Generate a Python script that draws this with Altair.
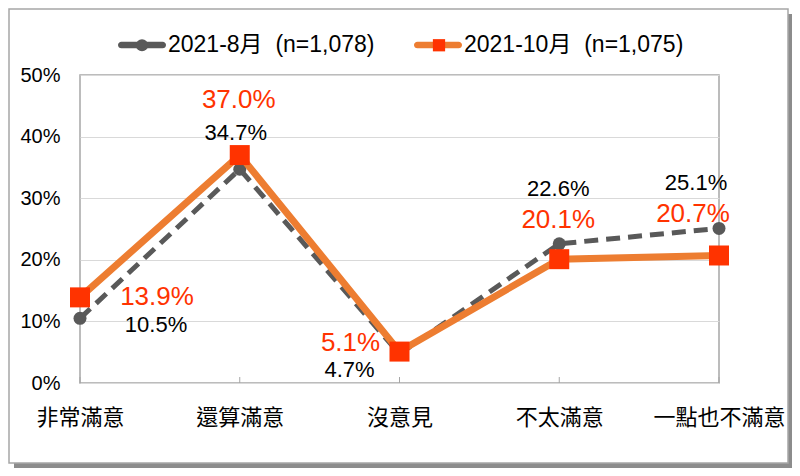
import altair as alt
import pandas as pd

# ---------------- data ----------------
categories = ["非常滿意", "還算滿意", "沒意見", "不太滿意", "一點也不滿意"]
series_names = ["2021-8月\u00a0\u00a0(n=1,078)", "2021-10月\u00a0\u00a0(n=1,075)"]
aug_values = [10.5, 34.7, 4.7, 22.6, 25.1]
oct_values = [13.9, 37.0, 5.1, 20.1, 20.7]
y_ticks = [0, 10, 20, 30, 40, 50]

rows = []
for s, vals in zip(series_names, [aug_values, oct_values]):
    for c, v in zip(categories, vals):
        rows.append({"cat": c, "series": s, "value": v})
df = pd.DataFrame(rows)

# ---------------- styles ----------------
LAT = "Liberation Sans, Arial, Noto Sans CJK TC, sans-serif"
CJK = "Noto Sans CJK TC, sans-serif"
GRAY = "#595959"
ORANGE = "#ED7D31"
RED = "#FF3300"
FRAME = "#A6A6A6"

W, H = 639, 308

x_enc = alt.X(
    "cat:N", sort=categories,
    scale=alt.Scale(type="point", padding=0),
    axis=alt.Axis(title=None, labelAngle=0, domain=False, ticks=False, tickSize=0,
                  grid=False, labelFont=CJK, labelFontSize=22, labelColor="#000000",
                  labelPadding=24),
)
y_enc = alt.Y(
    "value:Q",
    scale=alt.Scale(domain=[0, 50], nice=False),
    axis=alt.Axis(title=None, values=y_ticks, labelExpr="datum.value + '%'",
                  domain=False, ticks=False, tickSize=0, gridColor="#D9D9D9",
                  gridWidth=1, labelFont=LAT, labelFontSize=20, labelColor="#000000",
                  labelPadding=20),
)

base = alt.Chart(df)
is_aug = alt.datum.series == series_names[0]
is_oct = alt.datum.series == series_names[1]

# decoration: outer frame with shadow
one = alt.Data(values=[{"k": 0}])
shadow_r = alt.Chart(one).mark_rect(color="#8C8C8C").encode(
    x=alt.value(708), x2=alt.value(713), y=alt.value(-61), y2=alt.value(393))
shadow_b = alt.Chart(one).mark_rect(color="#8C8C8C").encode(
    x=alt.value(-66), x2=alt.value(713), y=alt.value(388), y2=alt.value(393))
frame = alt.Chart(one).mark_rect(fillOpacity=0, stroke=FRAME, strokeWidth=1.5).encode(
    x=alt.value(-71), x2=alt.value(708), y=alt.value(-66), y2=alt.value(388))

# inward x ticks
ticks = base.transform_filter(is_aug).mark_rule(color=FRAME, strokeWidth=1).encode(
    x=x_enc, y=alt.value(H - 6), y2=alt.value(H))

line_aug = base.transform_filter(is_aug).mark_line(
    color=GRAY, strokeWidth=5, strokeDash=[14, 8]).encode(x=x_enc, y=y_enc)
pts_aug = base.transform_filter(is_aug).mark_circle(
    color=GRAY, size=169, opacity=1).encode(x=x_enc, y=y_enc)
line_oct = base.transform_filter(is_oct).mark_line(
    color=ORANGE, strokeWidth=7).encode(x=x_enc, y=y_enc)
pts_oct = base.transform_filter(is_oct).mark_square(
    color=RED, size=400, opacity=1).encode(x=x_enc, y=y_enc)

# legends (line symbol legend + marker legend overlaid)
LINE_PATH = ("M-0.86,-0.14 H0.86 A0.14,0.14 0 0 1 0.86,0.14 "
             "H-0.86 A0.14,0.14 0 0 1 -0.86,-0.14 Z")
leg_common = dict(title=None, orient="none", direction="horizontal",
                  labelFont=LAT, labelFontSize=23, labelColor="#000000",
                  labelLimit=400, symbolStrokeWidth=0, padding=0)
legend_lines = alt.Legend(legendX=38, legendY=-54, symbolType=LINE_PATH,
                          symbolSize=2304, labelOffset=2, columnPadding=38,
                          zindex=1, **leg_common)
legend_marks = alt.Legend(legendX=50.5, legendY=-41.5, symbolSize=150,
                          labelOffset=0, labelExpr="''", columnPadding=274,
                          zindex=2, **leg_common)

leg_layer1 = base.transform_filter("false").mark_point(
    filled=True, opacity=1, shape=LINE_PATH).encode(
    x=x_enc, y=y_enc,
    color=alt.Color("series:N", scale=alt.Scale(domain=series_names, range=[GRAY, ORANGE]),
                    legend=legend_lines))
dom2 = ["m" + s for s in series_names]
leg_layer2 = base.transform_calculate(series2="'m' + datum.series").transform_filter(
    "false").mark_point(filled=True, opacity=1).encode(
    x=x_enc, y=y_enc,
    fill=alt.Fill("series2:N", scale=alt.Scale(domain=dom2, range=[GRAY, RED]),
                  legend=legend_marks),
    shape=alt.Shape("series2:N", scale=alt.Scale(domain=dom2, range=["circle", "square"]),
                    legend=legend_marks))

# value labels
labelled = base.transform_calculate(label="format(datum.value, '.1f') + '%'")
oct_offsets = [(77, 0), (-1, -55), (-49, -9), (-1, -39), (-26, -41)]
aug_offsets = [(76, 7), (-4, -36), (-50, 16), (-1, -55), (-23, -45)]
text_layers = []
for sname, offs, col, fs in [(series_names[0], aug_offsets, "#000000", 22),
                              (series_names[1], oct_offsets, RED, 26)]:
    for cat, (dx, dy) in zip(categories, offs):
        text_layers.append(
            labelled.transform_filter((alt.datum.series == sname) & (alt.datum.cat == cat))
            .mark_text(dx=dx, dy=dy, font=LAT, fontSize=fs, color=col,
                       align="center", baseline="middle")
            .encode(x=x_enc, y=y_enc, text="label:N")
        )

chart = alt.layer(
    shadow_r, shadow_b, frame, ticks, line_aug, pts_aug, line_oct, pts_oct,
    leg_layer1, leg_layer2, *text_layers
).properties(
    width=W, height=H,
    padding={"left": 72, "top": 67, "right": 73, "bottom": 85},
    autosize=alt.AutoSizeParams(type="none"),
).configure_view(stroke=FRAME, strokeWidth=1.5)

chart.save("out.html", embed_options={"renderer": "svg", "actions": False})
